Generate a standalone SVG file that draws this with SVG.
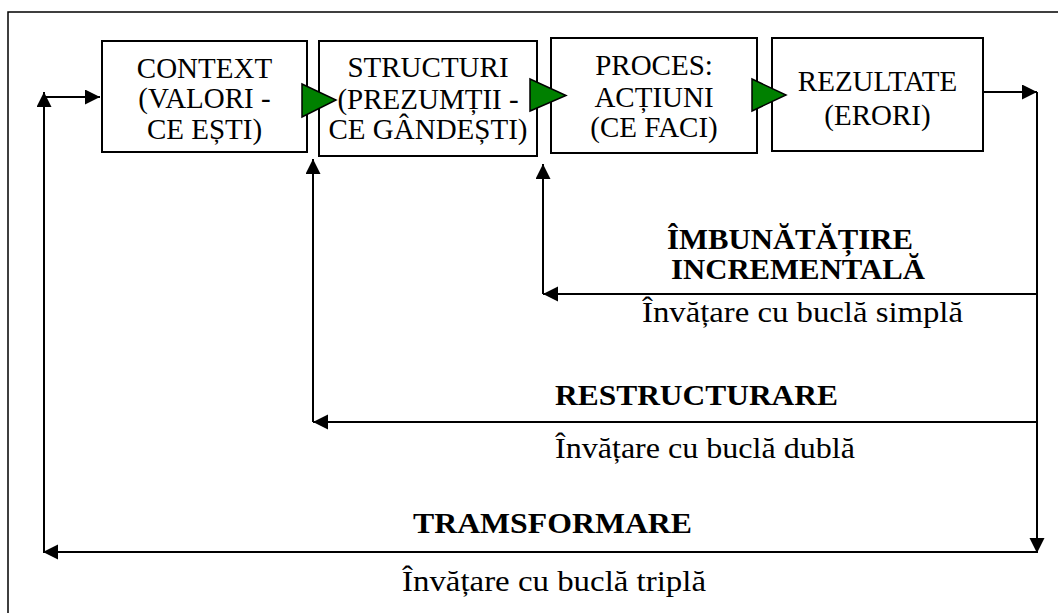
<svg xmlns="http://www.w3.org/2000/svg" width="1058" height="613" viewBox="0 0 1058 613">
<defs>
<marker id="ah" markerUnits="userSpaceOnUse" markerWidth="16" markerHeight="16" refX="15" refY="7.5" orient="auto">
<path d="M0,0 L15,7.5 L0,15 z" fill="#000"/>
</marker>
<style>
.box{fill:#fff;stroke:#000;stroke-width:2}
.bt{font-family:"Liberation Serif","Times New Roman",serif;font-size:29px;fill:#000;text-anchor:middle}
.lb{font-family:"Liberation Serif","Times New Roman",serif;font-size:30px;font-weight:bold;fill:#000;text-anchor:middle}
.lr{font-family:"Liberation Serif","Times New Roman",serif;font-size:30px;fill:#000;text-anchor:middle}
.ln{fill:none;stroke:#000;stroke-width:2;marker-end:url(#ah)}
.tri{fill:#008000;stroke:#000;stroke-width:1.5;stroke-linejoin:miter}
</style>
</defs>
<rect x="0" y="0" width="1058" height="613" fill="#fff"/>
<rect id="frame" x="8" y="12" width="1070" height="620" fill="none" stroke="#000" stroke-width="1.5"/>

<g id="node-context">
<rect class="box" x="102" y="41" width="205" height="111"/>
<text class="bt"><tspan x="204.5" y="78">CONTEXT</tspan><tspan x="204.5" y="108">(VALORI -</tspan><tspan x="204.5" y="139">CE EȘTI)</tspan></text>
</g>
<g id="node-structuri">
<rect class="box" x="319" y="41" width="218" height="115"/>
<text class="bt"><tspan x="428" y="77">STRUCTURI</tspan><tspan x="428" y="109">(PREZUMȚII -</tspan><tspan x="428" y="139">CE GÂNDEȘTI)</tspan></text>
</g>
<g id="node-proces">
<rect class="box" x="551" y="38" width="206" height="115"/>
<text class="bt"><tspan x="654" y="75">PROCES:</tspan><tspan x="654" y="107">ACȚIUNI</tspan><tspan x="654" y="137">(CE FACI)</tspan></text>
</g>
<g id="node-rezultate">
<rect class="box" x="772" y="38" width="211" height="113"/>
<text class="bt"><tspan x="877.5" y="91">REZULTATE</tspan><tspan x="877.5" y="125">(ERORI)</tspan></text>
</g>

<g id="connectors">
<polygon class="tri" points="302,84 336,100 302,117"/>
<polygon class="tri" points="530,79 566,95.5 530,111"/>
<polygon class="tri" points="752,79 786,95 752,111"/>
<line class="ln" x1="983" y1="92" x2="1037" y2="92"/>
<line class="ln" x1="1037" y1="92" x2="1037" y2="553"/>
<line class="ln" x1="1037" y1="294" x2="543" y2="294"/>
<line class="ln" x1="543" y1="294" x2="543" y2="164"/>
<line class="ln" x1="1037" y1="422" x2="313" y2="422"/>
<line class="ln" x1="313" y1="422" x2="313" y2="159"/>
<line class="ln" x1="1037" y1="552" x2="43" y2="552"/>
<line class="ln" x1="44" y1="552" x2="44" y2="92"/>
<line class="ln" x1="44" y1="97" x2="100" y2="97"/>
</g>

<g id="labels">
<text class="lb"><tspan x="790" y="249" textLength="246" lengthAdjust="spacingAndGlyphs">ÎMBUNĂTĂȚIRE</tspan><tspan x="798" y="279" textLength="254" lengthAdjust="spacingAndGlyphs">INCREMENTALĂ</tspan></text>
<text class="lr" x="802.5" y="322" textLength="321" lengthAdjust="spacingAndGlyphs">Învățare cu buclă simplă</text>
<text class="lb" x="696.5" y="405" textLength="283" lengthAdjust="spacingAndGlyphs">RESTRUCTURARE</text>
<text class="lr" x="705" y="458" textLength="300" lengthAdjust="spacingAndGlyphs">Învățare cu buclă dublă</text>
<text class="lb" x="552.5" y="533" textLength="279" lengthAdjust="spacingAndGlyphs">TRAMSFORMARE</text>
<text class="lr" x="554" y="591" textLength="304" lengthAdjust="spacingAndGlyphs">Învățare cu buclă triplă</text>
</g>
</svg>
